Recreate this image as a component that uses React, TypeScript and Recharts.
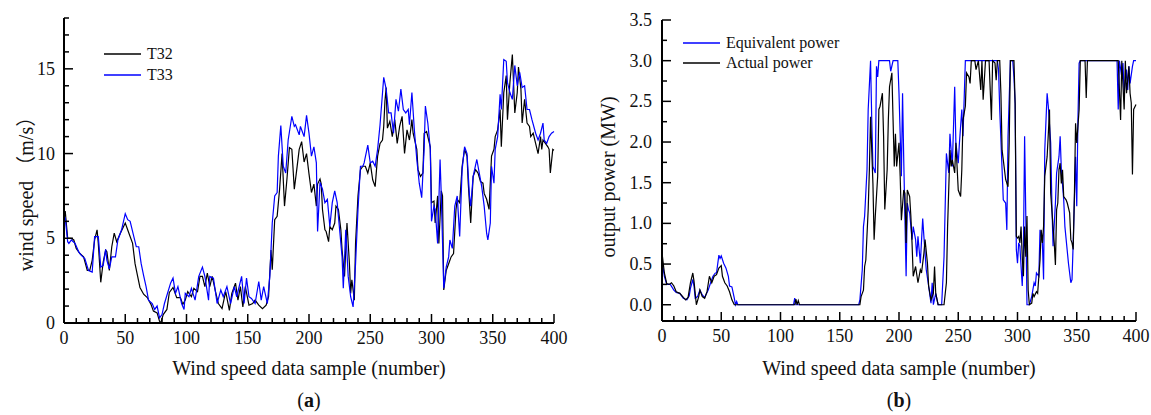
import React from "react";
import { LineChart, Line, XAxis, YAxis, Legend } from "recharts";

const FONT = '"Liberation Serif", "Times New Roman", "Noto Sans CJK SC", serif';

// x ticks (sample number), minor every 10, labelled every 50
const sampleTicks = [
  0, 10, 20, 30, 40, 50, 60, 70, 80, 90, 100, 110, 120, 130, 140, 150, 160, 170, 180, 190, 200,
  210, 220, 230, 240, 250, 260, 270, 280, 290, 300, 310, 320, 330, 340, 350, 360, 370, 380, 390, 400,
];
const speedTicks = [0, 1, 2, 3, 4, 5, 6, 7, 8, 9, 10, 11, 12, 13, 14, 15, 16, 17, 18];
const powerTicks = [0, 0.25, 0.5, 0.75, 1, 1.25, 1.5, 1.75, 2, 2.25, 2.5, 2.75, 3, 3.25, 3.5];

// [sample, wind speed m/s]
const t32: [number, number][] = [
  [0, 6.2], [1, 6.6], [3, 5.0], [6, 5.0], [8, 4.9], [10, 4.4], [13, 4.1], [16, 3.9], [19, 3.1], [21, 3.1],
  [23, 3.7], [25, 4.9], [27, 5.5], [28, 4.7], [30, 2.4], [32, 3.6], [34, 4.3], [35, 4.2], [37, 3.1], [39, 4.5],
  [41, 5.3], [43, 4.8], [46, 5.3], [50, 5.9], [53, 5.3], [56, 4.7], [58, 3.5], [60, 2.8], [62, 2.1], [65, 1.7],
  [68, 1.5], [71, 1.1], [73, 0.7], [76, 0.6], [78, 0.1], [79, 0], [81, 0.5], [84, 0.8], [86, 1.8], [89, 2.1],
  [92, 1.5], [95, 1.5], [97, 1.1], [99, 1.35], [101, 1.85], [104, 1.55], [106, 2.05], [109, 1.85], [111, 2.75], [113, 2.75],
  [115, 2.15], [117, 2.95], [119, 2.15], [121, 2.75], [124, 1.75], [126, 1.15], [129, 0.85], [132, 1.85], [135, 0.75], [137, 1.75],
  [140, 2.35], [142, 1.35], [144, 2.15], [146, 0.95], [148, 2.15], [151, 1.05], [154, 1.15], [156, 1.35], [159, 1.05], [162, 0.85],
  [165, 1.05], [167, 1.55], [169, 4.3], [170, 3.15], [172, 6.1], [174, 6.3], [176, 7.9], [178, 10.0], [180, 6.9], [182, 8.5],
  [184, 10.35], [186, 10.25], [188, 7.9], [190, 9.05], [192, 10.25], [194, 10.7], [196, 9.5], [198, 10.0], [200, 8.8], [202, 7.7],
  [204, 8.2], [206, 6.9], [207, 8.2], [209, 8.5], [210, 8.2], [211, 6.7], [213, 5.5], [214, 5.4], [216, 4.8], [217, 5.7],
  [219, 5.5], [221, 5.9], [222, 6.9], [224, 6.7], [226, 5.5], [227, 4.3], [229, 2.75], [231, 5.9], [233, 3.5], [234, 1.75],
  [235, 2.55], [237, 1.35], [238, 4.7], [240, 7.5], [242, 9.05], [244, 9.25], [246, 9.25], [248, 8.85], [250, 9.45], [252, 8.45],
  [254, 8.05], [256, 9.85], [258, 10.6], [260, 10.8], [261, 11.6], [262, 13.1], [263, 13.9], [264, 11.5], [266, 11.9], [268, 11.0],
  [270, 12.0], [272, 10.6], [274, 11.6], [276, 12.2], [278, 10.0], [280, 11.4], [282, 10.8], [284, 12.0], [285, 11.2], [288, 10.25],
  [289, 9.05], [291, 8.65], [293, 8.85], [294, 11.2], [296, 11.3], [299, 10.4], [300, 7.1], [302, 7.2], [303, 5.9], [305, 7.5],
  [306, 4.7], [308, 7.8], [309, 7.5], [310, 1.95], [312, 3.1], [314, 3.5], [316, 3.9], [318, 4.1], [320, 6.7], [321, 7.3],
  [323, 7.1], [325, 9.25], [327, 10.25], [329, 9.85], [330, 8.25], [332, 5.9], [334, 8.65], [336, 9.05], [338, 8.85], [340, 8.35],
  [342, 8.25], [343, 7.65], [345, 7.3], [347, 6.7], [349, 9.85], [351, 10.25], [352, 11.0], [354, 11.4], [356, 12.6], [357, 10.4],
  [359, 13.6], [361, 14.6], [362, 12.0], [364, 14.2], [366, 15.85], [368, 12.4], [370, 13.6], [371, 15.1], [373, 13.8], [374, 11.8],
  [376, 13.2], [378, 11.8], [380, 11.6], [381, 11.0], [383, 11.2], [385, 10.6], [387, 10.0], [389, 11.0], [390, 10.25], [391, 10.8],
  [393, 10.6], [395, 10.4], [396, 10.25], [397, 8.85], [399, 10.25], [400, 10.2],
];

const t33: [number, number][] = [
  [0, 6.3], [1, 6.2], [3, 4.8], [4, 4.7], [6, 4.9], [9, 4.7], [12, 4.2], [14, 4.0], [17, 3.8], [20, 3.1],
  [23, 3.0], [25, 5.1], [28, 5.1], [30, 3.3], [32, 3.4], [34, 4.35], [35, 3.7], [37, 3.2], [39, 3.9], [42, 3.9],
  [44, 4.9], [47, 5.5], [50, 6.45], [52, 6.1], [54, 6.0], [57, 5.1], [59, 4.5], [61, 4.5], [63, 3.5], [65, 2.8],
  [67, 2.15], [69, 1.35], [72, 1.15], [74, 0.8], [76, 1.0], [78, 0.3], [80, 0.5], [82, 1.15], [87, 2.35], [89, 2.65],
  [91, 1.75], [93, 2.15], [96, 1.15], [98, 0.8], [99, 1.75], [102, 1.55], [104, 2.05], [107, 1.35], [110, 2.75], [113, 3.3],
  [115, 2.75], [118, 1.35], [119, 2.75], [122, 2.65], [125, 1.15], [128, 1.95], [130, 1.55], [133, 2.15], [136, 1.15], [139, 2.15],
  [141, 1.55], [145, 2.75], [147, 1.15], [149, 2.65], [151, 1.55], [153, 1.45], [156, 1.15], [159, 2.45], [161, 1.35], [163, 2.15],
  [166, 1.15], [168, 2.75], [170, 5.9], [172, 7.5], [174, 7.7], [175, 9.85], [177, 11.65], [179, 9.25], [181, 8.85], [183, 10.8],
  [186, 12.2], [188, 11.6], [189, 11.7], [192, 11.1], [193, 11.6], [196, 11.0], [198, 12.25], [200, 11.2], [202, 9.85], [204, 10.4],
  [206, 9.45], [207, 5.4], [209, 8.3], [211, 7.9], [213, 7.1], [215, 7.3], [217, 5.7], [219, 7.1], [221, 7.8], [223, 7.1],
  [225, 5.5], [227, 3.9], [228, 2.05], [230, 5.5], [232, 2.75], [234, 1.55], [236, 0.95], [238, 3.5], [240, 6.7], [242, 9.25],
  [244, 9.25], [245, 9.45], [248, 10.5], [250, 9.45], [252, 9.55], [254, 9.25], [256, 10.25], [258, 11.7], [261, 14.5], [263, 13.8],
  [265, 12.4], [267, 12.4], [269, 11.2], [271, 13.2], [273, 12.5], [275, 13.8], [277, 12.6], [279, 12.4], [281, 12.6], [282, 11.7],
  [284, 13.6], [286, 11.4], [288, 9.65], [290, 8.25], [292, 7.4], [294, 10.25], [295, 12.8], [297, 11.8], [299, 10.25], [300, 6.0],
  [302, 6.9], [303, 6.7], [305, 4.7], [307, 9.65], [308, 7.5], [310, 2.05], [312, 3.3], [314, 3.9], [315, 4.9], [317, 4.4],
  [319, 6.9], [321, 7.5], [323, 5.1], [325, 9.05], [327, 10.4], [329, 10.0], [331, 7.5], [332, 6.9], [334, 8.65], [337, 9.65],
  [339, 8.85], [341, 8.05], [343, 6.9], [345, 5.3], [346, 4.9], [348, 5.9], [349, 9.25], [351, 8.25], [352, 10.25], [354, 11.0],
  [356, 13.5], [357, 12.6], [359, 15.55], [361, 15.45], [362, 14.2], [364, 13.6], [366, 13.2], [368, 15.2], [370, 14.0], [372, 14.8],
  [374, 13.9], [376, 14.0], [378, 12.6], [380, 12.6], [382, 12.0], [385, 11.2], [387, 10.8], [389, 11.2], [391, 11.8], [392, 10.8],
  [394, 10.6], [396, 11.0], [398, 11.2], [400, 11.3],
];

// [sample, output power MW]
const equivalentPower: [number, number][] = [
  [0, 0.55], [2, 0.35], [4, 0.25], [7, 0.25], [10, 0.18], [12, 0.15], [15, 0.14], [18, 0.08], [21, 0.06], [23, 0.11],
  [24, 0.2], [26, 0.31], [27, 0.23], [28, 0.08], [30, 0.1], [32, 0.18], [34, 0.12], [36, 0.09], [39, 0.18], [41, 0.27],
  [43, 0.35], [45, 0.39], [46, 0.39], [48, 0.61], [49, 0.57], [50, 0.6], [52, 0.51], [54, 0.45], [56, 0.35], [57, 0.23],
  [59, 0.22], [61, 0.08], [62, 0], [63, 0.04], [64, 0], [111, 0], [112, 0.08], [113, 0], [166, 0], [167, 0.06], [169, 0.43],
  [170, 0.96], [171, 1.09], [173, 1.66], [174, 2.4], [176, 3.0], [177, 2.27], [178, 1.7], [180, 1.62], [181, 2.93], [182, 2.8],
  [183, 3.0], [192, 3.0], [193, 2.87], [195, 3.0], [199, 3.0], [200, 2.6], [202, 1.58], [203, 2.6], [204, 1.78], [206, 0.35],
  [207, 1.25], [208, 1.17], [209, 1.13], [211, 0.8], [212, 0.96], [214, 0.8], [215, 0.59], [216, 0.84], [218, 0.51], [220, 1.06],
  [221, 0.84], [223, 0.43], [225, 0.23], [227, 0.02], [228, 0.27], [229, 0], [231, 0.14], [233, 0], [236, 0], [238, 0.59],
  [240, 1.86], [242, 1.62], [243, 2.1], [245, 1.7], [247, 2.68], [248, 1.99], [250, 1.74], [251, 1.99], [253, 2.4], [254, 2.07],
  [256, 3.0], [283, 3.0], [284, 2.89], [285, 2.4], [287, 1.66], [288, 1.29], [290, 1.25], [291, 0.92], [292, 2.07], [294, 3.0],
  [296, 3.0], [297, 2.8], [298, 2.47], [299, 0.68], [300, 0.51], [301, 0.76], [302, 0.72], [304, 0.23], [305, 0.68], [306, 2.07],
  [307, 1.09], [308, 0], [310, 0], [312, 0.1], [314, 0.27], [315, 0.23], [316, 0.39], [318, 0.35], [319, 0.92], [321, 0.76],
  [322, 0.31], [323, 1.9], [325, 2.6], [326, 2.44], [328, 1.99], [329, 1.25], [330, 0.72], [332, 1.25], [333, 1.62], [335, 1.82],
  [336, 2.07], [337, 1.66], [339, 1.29], [340, 0.96], [343, 0.51], [345, 0.27], [346, 0.31], [347, 0.76], [349, 1.82], [350, 1.21],
  [351, 2.27], [352, 2.97], [353, 3.0], [384, 3.0], [385, 2.4], [386, 3.0], [388, 2.8], [389, 2.97], [390, 2.6], [392, 2.89],
  [393, 2.64], [394, 2.93], [395, 2.72], [397, 2.93], [398, 3.0], [400, 3.0],
];

const actualPower: [number, number][] = [
  [0, 0.64], [2, 0.39], [4, 0.26], [6, 0.25], [8, 0.27], [10, 0.23], [12, 0.16], [15, 0.14], [18, 0.09], [20, 0.06],
  [22, 0.09], [24, 0.27], [26, 0.39], [27, 0.29], [29, 0], [31, 0.1], [32, 0.18], [34, 0.1], [36, 0.08], [38, 0.16],
  [40, 0.35], [42, 0.27], [44, 0.35], [46, 0.37], [48, 0.45], [50, 0.48], [51, 0.35], [53, 0.27], [55, 0.23], [57, 0.16],
  [59, 0.06], [61, 0], [112, 0], [113, 0.07], [114, 0], [115, 0.05], [116, 0], [167, 0], [168, 0.1], [170, 0.18],
  [171, 0.47], [172, 0.55], [174, 1.17], [175, 1.66], [176, 2.31], [178, 1.49], [179, 0.8], [180, 1.09], [182, 1.58], [183, 2.4],
  [184, 2.44], [186, 2.6], [187, 2.07], [188, 1.17], [190, 1.66], [191, 2.27], [192, 2.68], [194, 2.85], [195, 2.27], [196, 1.7],
  [197, 2.1], [198, 1.7], [200, 1.99], [201, 1.58], [202, 1.04], [204, 1.41], [205, 1.37], [206, 0.76], [207, 1.41], [209, 1.33],
  [210, 1.09], [211, 0.76], [212, 0.35], [214, 0.47], [216, 0.27], [218, 0.43], [219, 0.39], [221, 0.63], [222, 0.8], [224, 0.51],
  [225, 0.23], [227, 0.06], [229, 0.14], [230, 0.47], [231, 0.14], [233, 0], [238, 0], [240, 0.27], [241, 0.96], [243, 1.9],
  [244, 1.7], [245, 1.78], [247, 1.62], [248, 1.99], [250, 1.41], [252, 1.33], [253, 1.66], [254, 2.27], [256, 2.44], [257, 2.85],
  [259, 2.8], [260, 2.72], [261, 3.0], [264, 3.0], [265, 2.89], [267, 3.0], [269, 2.64], [270, 3.0], [271, 2.52], [273, 3.0],
  [276, 3.0], [278, 2.27], [279, 3.0], [281, 2.97], [282, 2.76], [283, 3.0], [285, 3.0], [286, 2.6], [287, 1.9], [289, 1.66],
  [290, 1.54], [292, 1.45], [293, 1.99], [294, 3.0], [297, 3.0], [298, 2.48], [299, 0.84], [300, 0.82], [301, 0.84], [302, 0.76],
  [303, 0.96], [304, 0.59], [305, 0.35], [306, 0.96], [307, 0.59], [308, 1.09], [309, 0.18], [310, 0], [312, 0.02], [313, 0.14],
  [314, 0.1], [316, 0.16], [317, 0.14], [319, 0.55], [320, 0.92], [321, 0.76], [322, 0.96], [323, 1.58], [325, 1.82], [326, 2.1],
  [327, 2.4], [328, 1.37], [330, 0.96], [331, 0.76], [332, 0.49], [333, 1.17], [334, 1.25], [335, 1.66], [336, 1.74], [337, 1.49],
  [338, 1.66], [339, 1.33], [341, 1.29], [342, 1.25], [344, 1.13], [345, 0.8], [346, 0.76], [347, 0.68], [348, 1.33], [349, 2.23],
  [350, 1.99], [352, 2.4], [353, 3.0], [357, 3.0], [358, 2.54], [359, 3.0], [385, 3.0], [387, 2.27], [388, 3.0], [390, 2.4],
  [391, 3.0], [392, 2.6], [394, 2.93], [395, 2.6], [396, 2.48], [397, 1.6], [398, 2.4], [400, 2.46],
];

const toPoints = (pairs: [number, number][]) => pairs.map(([i, v]) => ({ i, v }));

const isMajorSample = (v: number) => v % 50 === 0;
const isMajorSpeed = (v: number) => v % 5 === 0;
const isMajorPower = (v: number) => Number.isInteger(v * 2);

// ticks point inwards; long for labelled values, short otherwise
const makeYTick = (isMajor: (v: number) => boolean, fmt: (v: number) => string, gap: number) =>
  (props: any) => {
    const { x, y, payload } = props;
    const major = isMajor(payload.value);
    return (
      <g>
        <line x1={x} y1={y} x2={x + (major ? 9 : 5)} y2={y} stroke="#000" strokeWidth={1.5} />
        {major && (
          <text x={x - gap} y={y + 6} textAnchor="end" fontSize={18} fontFamily={FONT} fill="#111">
            {fmt(payload.value)}
          </text>
        )}
      </g>
    );
  };

const xTick = (props: any) => {
  const { x, y, payload } = props;
  const major = isMajorSample(payload.value);
  return (
    <g>
      <line x1={x} y1={y} x2={x} y2={y - (major ? 9 : 5)} stroke="#000" strokeWidth={1.5} />
      {major && (
        <text x={x} y={y + 21} textAnchor="middle" fontSize={18} fontFamily={FONT} fill="#111">
          {payload.value}
        </text>
      )}
    </g>
  );
};

const xTitle = (cx: number, y: number) => () => (
  <text x={cx} y={y} textAnchor="middle" fontSize={20} fontFamily={FONT} fill="#111">
    Wind speed data sample (number)
  </text>
);

const yTitle = (cx: number, cy: number, text: string) => () => (
  <text
    transform={`translate(${cx},${cy}) rotate(-90)`}
    textAnchor="middle"
    dominantBaseline="central"
    fontSize={20}
    fontFamily={FONT}
    fill="#111"
  >
    {text}
  </text>
);

const legendContent = (items: { name: string; color: string; gap: number }[]) => () => (
  <div style={{ fontFamily: FONT, fontSize: 16, color: "#111" }}>
    {items.map((it) => (
      <div key={it.name} style={{ display: "flex", alignItems: "center", height: it.gap }}>
        <svg width={37} height={4} style={{ display: "block" }}>
          <line x1={0} y1={2} x2={37} y2={2} stroke={it.color} strokeWidth={1.4} />
        </svg>
        <span style={{ marginLeft: 6, lineHeight: 1 }}>{it.name}</span>
      </div>
    ))}
  </div>
);

const Caption = ({ cx, letter }: { cx: number; letter: string }) => (
  <div
    style={{
      position: "absolute",
      left: cx - 30,
      top: 389,
      width: 60,
      textAlign: "center",
      fontFamily: FONT,
      fontSize: 20,
      lineHeight: "22px",
      color: "#111",
    }}
  >
    (<b>{letter}</b>)
  </div>
);

export default function App() {
  return (
    <div style={{ position: "absolute", left: 0, top: 0, width: 1151, height: 415, background: "#fff" }}>
      {/* (a) wind speed */}
      <div style={{ position: "absolute", left: 0, top: 0 }}>
        <LineChart width={600} height={415} margin={{ top: 18, right: 46, bottom: 62, left: 24 }}>
          <XAxis
            type="number"
            dataKey="i"
            domain={[0, 400]}
            ticks={sampleTicks}
            interval={0}
            height={30}
            tickSize={0}
            tickMargin={0}
            tickLine={false}
            tick={xTick}
            axisLine={{ stroke: "#000", strokeWidth: 2 }}
            label={xTitle(309, 375)}
          />
          <YAxis
            type="number"
            domain={[0, 18]}
            ticks={speedTicks}
            interval={0}
            width={40}
            tickSize={0}
            tickMargin={0}
            tickLine={false}
            tick={makeYTick(isMajorSpeed, (v) => String(v), 9)}
            axisLine={{ stroke: "#000", strokeWidth: 2 }}
            label={yTitle(26, 189, "wind speed （m/s）")}
          />
          <Legend
            layout="horizontal"
            verticalAlign="middle"
            align="center"
            wrapperStyle={{ left: 104, top: 43, width: "auto" }}
            content={legendContent([
              { name: "T32", color: "#000", gap: 21 },
              { name: "T33", color: "#0000ff", gap: 21 },
            ])}
          />
          <Line data={toPoints(t32)} dataKey="v" name="T32" type="linear" stroke="#000" strokeWidth={1.2} dot={false} isAnimationActive={false} />
          <Line data={toPoints(t33)} dataKey="v" name="T33" type="linear" stroke="#0000ff" strokeWidth={1.2} dot={false} isAnimationActive={false} />
        </LineChart>
      </div>

      {/* (b) output power */}
      <div style={{ position: "absolute", left: 560, top: 0 }}>
        <LineChart width={591} height={415} margin={{ top: 20, right: 15, bottom: 64, left: 62 }}>
          <XAxis
            type="number"
            dataKey="i"
            domain={[0, 400]}
            ticks={sampleTicks}
            interval={0}
            height={30}
            tickSize={0}
            tickMargin={0}
            tickLine={false}
            tick={xTick}
            axisLine={{ stroke: "#000", strokeWidth: 2 }}
            label={xTitle(339, 375)}
          />
          <YAxis
            type="number"
            domain={[-0.2, 3.5]}
            ticks={powerTicks}
            interval={0}
            width={40}
            tickSize={0}
            tickMargin={0}
            tickLine={false}
            tick={makeYTick(isMajorPower, (v) => v.toFixed(1), 10)}
            axisLine={{ stroke: "#000", strokeWidth: 2 }}
            label={yTitle(48, 177, "output power (MW)")}
          />
          <Legend
            layout="horizontal"
            verticalAlign="middle"
            align="center"
            wrapperStyle={{ left: 123, top: 33, width: "auto" }}
            content={legendContent([
              { name: "Equivalent power", color: "#0000ff", gap: 20 },
              { name: "Actual power", color: "#000", gap: 20 },
            ])}
          />
          <Line data={toPoints(equivalentPower)} dataKey="v" name="Equivalent power" type="linear" stroke="#0000ff" strokeWidth={1.2} dot={false} isAnimationActive={false} />
          <Line data={toPoints(actualPower)} dataKey="v" name="Actual power" type="linear" stroke="#000" strokeWidth={1.2} dot={false} isAnimationActive={false} />
        </LineChart>
      </div>

      <Caption cx={309} letter="a" />
      <Caption cx={899} letter="b" />
    </div>
  );
}
